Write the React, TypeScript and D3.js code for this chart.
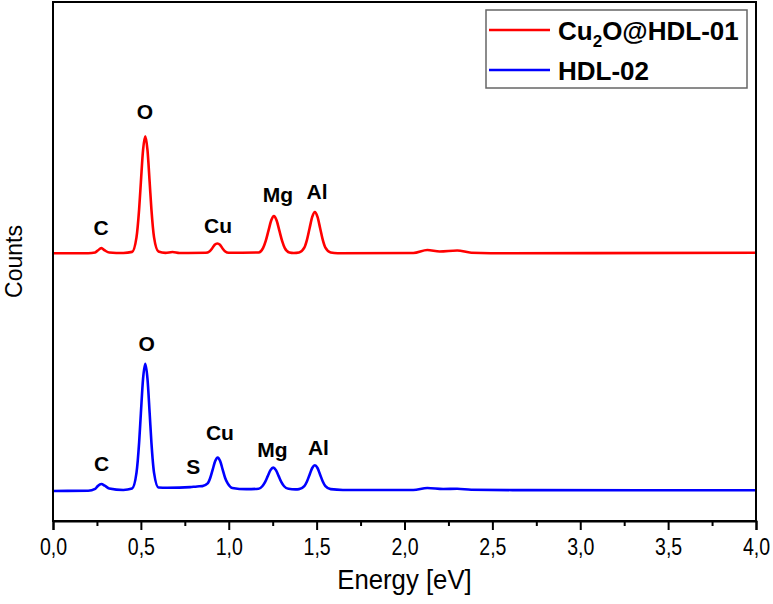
import React, { useEffect, useRef } from 'react';
import * as d3 from 'd3';

// Energy [eV] and counts (red one carries its stacking offset)
const cuEnergy = [0, 0.2, 0.24, 0.255, 0.275, 0.295, 0.32, 0.4, 0.45, 0.475, 0.49, 0.5, 0.5125, 0.525, 0.5375, 0.55, 0.56, 0.575, 0.6, 0.64, 0.68, 0.72, 0.87, 0.89, 0.905, 0.92, 0.935, 0.95, 0.965, 0.98, 1.0, 1.17, 1.195, 1.21, 1.226, 1.2415, 1.257, 1.2725, 1.288, 1.304, 1.319, 1.345, 1.37, 1.4, 1.43, 1.445, 1.46, 1.475, 1.49, 1.505, 1.52, 1.535, 1.55, 1.58, 1.62, 2.05, 2.13, 2.2, 2.3, 2.38, 2.6, 4.0];
const cuCounts = [2673, 2673, 2680, 2700, 2723, 2700, 2680, 2675, 2686, 2831, 3111, 3381, 3703, 3840, 3703, 3381, 3111, 2831, 2690, 2676, 2685, 2675, 2677, 2690, 2720, 2758, 2770, 2758, 2720, 2690, 2677, 2680, 2723, 2793, 2898, 2999, 3043, 2999, 2898, 2793, 2723, 2680, 2675, 2680, 2728, 2806, 2922, 3035, 3083, 3035, 2922, 2806, 2728, 2680, 2673, 2675, 2705, 2690, 2700, 2678, 2673, 2678];

const hdlEnergy = [0, 0.2, 0.24, 0.255, 0.275, 0.295, 0.32, 0.4, 0.45, 0.475, 0.49, 0.5, 0.5125, 0.525, 0.5375, 0.55, 0.56, 0.575, 0.6, 0.65, 0.72, 0.78, 0.82, 0.85, 0.88, 0.895, 0.909, 0.923, 0.937, 0.951, 0.965, 0.979, 0.994, 1.02, 1.1, 1.17, 1.191, 1.2065, 1.222, 1.2375, 1.253, 1.2685, 1.284, 1.2995, 1.315, 1.34, 1.38, 1.4, 1.43, 1.445, 1.46, 1.475, 1.49, 1.505, 1.52, 1.535, 1.55, 1.58, 1.65, 2.05, 2.13, 2.22, 2.3, 2.38, 2.7, 4.0];
const hdlCounts = [300, 302, 320, 350, 370, 352, 325, 310, 324, 480, 782, 1075, 1421, 1570, 1421, 1075, 782, 480, 335, 332, 333, 338, 345, 348, 375, 432, 516, 598, 633, 598, 516, 432, 375, 330, 318, 322, 347, 388, 448, 508, 533, 508, 448, 388, 347, 322, 316, 318, 348, 394, 462, 529, 557, 529, 462, 394, 348, 318, 310, 310, 330, 320, 322, 312, 308, 307];

const cuLabels = ['C', 'O', 'Cu', 'Mg', 'Al'];
const cuLabelEnergy = [0.273, 0.523, 0.939, 1.28, 1.502];
const cuLabelCounts = [2850, 4010, 2873, 3180, 3210];

const hdlLabels = ['C', 'O', 'S', 'Cu', 'Mg', 'Al'];
const hdlLabelEnergy = [0.277, 0.533, 0.798, 0.95, 1.248, 1.51];
const hdlLabelCounts = [500, 1693, 467, 807, 640, 657];

const xTicks = [0, 0.5, 1, 1.5, 2, 2.5, 3, 3.5, 4];
const xMinorTicks = [0.25, 0.75, 1.25, 1.75, 2.25, 2.75, 3.25, 3.75];

const App: React.FC = () => {
    const svgRef = useRef<SVGSVGElement | null>(null);
    const width = 773;
    const height = 604;

    useEffect(() => {
        const svg = d3.select(svgRef.current);
        svg.selectAll('*').remove();
        const margin = { top: 2, right: 17, bottom: 83, left: 53 };
        const plotW = width - margin.left - margin.right;
        const plotH = height - margin.top - margin.bottom;

        const x = d3.scaleLinear().domain([0, 4]).range([0, plotW]);
        const y = d3.scaleLinear().domain([0, 5180]).range([plotH, 0]);

        const g = svg.append('g').attr('transform', `translate(${margin.left},${margin.top})`);

        const line = d3
            .line<[number, number]>()
            .x((d) => x(d[0]))
            .y((d) => y(d[1]))
            .curve(d3.curveMonotoneX);

        const series = [
            { e: cuEnergy, c: cuCounts, color: '#ff0000' },
            { e: hdlEnergy, c: hdlCounts, color: '#0000ff' },
        ];
        series.forEach((s) => {
            g.append('path')
                .datum(s.e.map((e, i) => [e, s.c[i]] as [number, number]))
                .attr('d', line)
                .attr('fill', 'none')
                .attr('stroke', s.color)
                .attr('stroke-width', 2.6)
                .attr('stroke-linejoin', 'round');
        });

        // peak labels
        const font = '"Liberation Sans", Arial, sans-serif';
        const addLabels = (names: string[], es: number[], cs: number[]) => {
            names.forEach((n, i) => {
                g.append('text')
                    .attr('x', x(es[i]))
                    .attr('y', y(cs[i]))
                    .attr('text-anchor', 'middle')
                    .style('font-family', font)
                    .style('font-weight', 'bold')
                    .style('font-size', '21px')
                    .text(n);
            });
        };
        addLabels(cuLabels, cuLabelEnergy, cuLabelCounts);
        addLabels(hdlLabels, hdlLabelEnergy, hdlLabelCounts);

        // frame
        g.append('rect')
            .attr('width', plotW)
            .attr('height', plotH)
            .attr('fill', 'none')
            .attr('stroke', '#000')
            .attr('stroke-width', 2);

        // x axis, narrow tick labels
        const xAxis = g
            .append('g')
            .attr('transform', `translate(0,${plotH})`)
            .call(
                d3
                    .axisBottom(x)
                    .tickValues(xTicks)
                    .tickSize(9)
                    .tickFormat((d) => d3.format('.1f')(d as number).replace('.', ','))
            );
        xAxis.select('.domain').attr('stroke-width', 2);
        xAxis.selectAll('.tick line').attr('stroke-width', 2);
        xAxis
            .selectAll('.tick text')
            .attr('y', 34)
            .attr('dy', 0)
            .attr('transform', 'scale(0.85,1)')
            .style('font-family', font)
            .style('font-size', '23px')
            .attr('fill', '#000');

        g.append('g')
            .attr('transform', `translate(0,${plotH})`)
            .call(d3.axisBottom(x).tickValues(xMinorTicks).tickSize(5).tickFormat(() => ''))
            .call((a) => a.select('.domain').remove())
            .selectAll('.tick line')
            .attr('stroke-width', 2);

        g.append('text')
            .attr('transform', `translate(${plotW / 2},${plotH + 68}) scale(0.92,1)`)
            .attr('text-anchor', 'middle')
            .style('font-family', font)
            .style('font-size', '28px')
            .text('Energy [eV]');

        svg.append('text')
            .attr('transform', `translate(22,${margin.top + plotH / 2}) rotate(-90)`)
            .attr('text-anchor', 'middle')
            .style('font-family', font)
            .style('font-size', '23px')
            .text('Counts');

        // legend
        const legend = svg.append('g');
        legend.append('rect')
            .attr('x', 486)
            .attr('y', 10)
            .attr('width', 261)
            .attr('height', 78)
            .attr('fill', '#fff')
            .attr('stroke', '#666')
            .attr('stroke-width', 1.5);
        const items = [
            { color: '#ff0000', yPos: 30 },
            { color: '#0000ff', yPos: 70 },
        ];
        items.forEach((it, i) => {
            legend.append('line')
                .attr('x1', 489)
                .attr('x2', 550)
                .attr('y1', it.yPos)
                .attr('y2', it.yPos)
                .attr('stroke', it.color)
                .attr('stroke-width', 2.6);
            const t = legend.append('text')
                .attr('x', 558)
                .attr('y', it.yPos + 9.5)
                .style('font-family', font)
                .style('font-weight', 'bold')
                .style('font-size', '26px');
            if (i === 0) {
                t.append('tspan').text('Cu');
                t.append('tspan').attr('dy', 7).style('font-size', '17px').text('2');
                t.append('tspan').attr('dy', -7).text('O@HDL-01');
            } else {
                t.text('HDL-02');
            }
        });
    }, []);

    return (
        <svg
            ref={svgRef}
            width={width}
            height={height}
            style={{ position: 'absolute', left: 0, top: 0, background: '#fff' }}
        ></svg>
    );
};

export default App;
